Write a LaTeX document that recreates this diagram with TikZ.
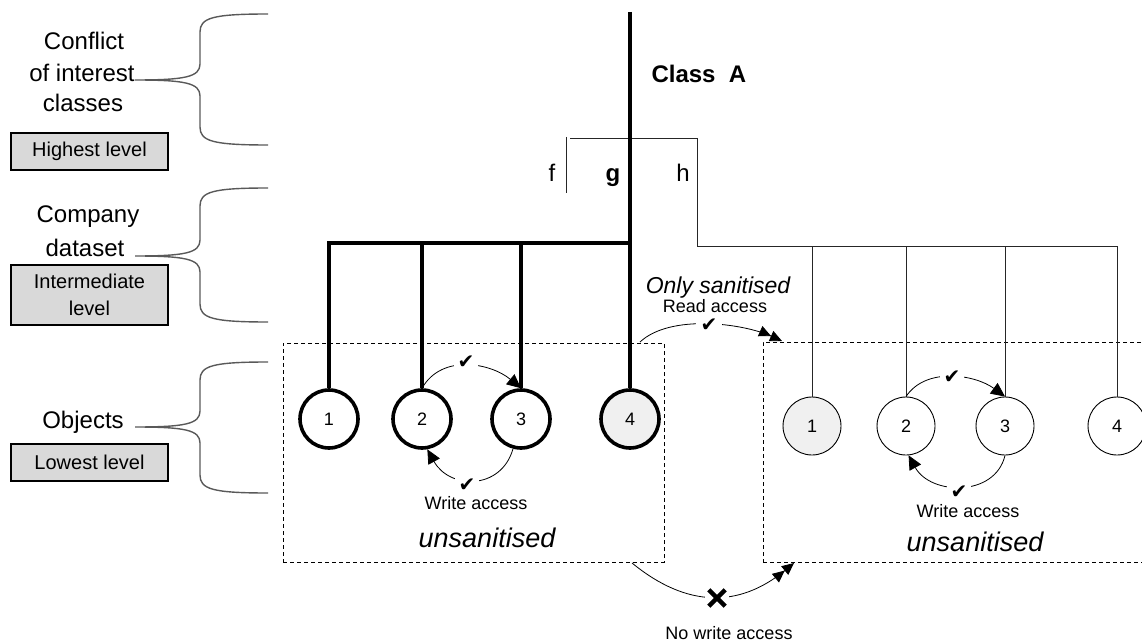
\documentclass[tikz,border=0pt]{standalone}
\usepackage{fontspec}
\setmainfont{Liberation Sans}
\newfontfamily\symfont{DejaVu Sans}
\usetikzlibrary{arrows.meta}

\tikzset{
  fs/.style={font=\fontsize{#1}{#1}\selectfont},
  fsb/.style={font=\fontsize{#1}{#1}\selectfont\bfseries},
  fsi/.style={font=\fontsize{#1}{#1}\selectfont\itshape},
  lvlbox/.style={draw, line width=1.2, fill=black!15, minimum width=157, inner sep=0, align=center},
  bracepath/.style={draw=black!65, line width=1.4},
  thickobj/.style={circle, draw, line width=3.6, fill=white, minimum size=58, inner sep=0, fs=18},
  thinobj/.style={circle, draw, line width=0.9, fill=white, minimum size=58, inner sep=0, fs=18},
  thickline/.style={line width=4},
  thinline/.style={line width=0.9, draw=black!85},
  dbox/.style={draw, dash pattern=on 4 off 3, line width=0.8, inner sep=0},
  chk/.style={font=\symfont\fontsize{20}{20}\selectfont, fill=white, inner sep=4},
  arc/.style={line width=0.8},
  tip/.style={-{Triangle[length=14,width=13]}},
  dtip/.style={-{Triangle[length=12,width=11]Triangle[length=12,width=11]}},
  crossbox/.style={fill=white, minimum size=24, inner sep=0},
  crossline/.style={line width=4.5},
}

\begin{document}
\begin{tikzpicture}[x=1pt,y=-1pt]
\clip (0,0) rectangle (1142,644);

% level braces
\foreach \t/\m/\b in {14/80/145, 188/256/322, 362/427/493}{
  \path[bracepath] (268,\t) .. controls (212,\t) and (200,\t+4) .. (200,\t+18)
     -- (200,\m-16) .. controls (200,\m-3) and (185,\m) .. (135,\m)
     .. controls (185,\m) and (200,\m+3) .. (200,\m+16)
     -- (200,\b-18) .. controls (200,\b-4) and (212,\b) .. (268,\b);
}

% level labels
\node[fs=24, anchor=base] (c1) at (84,50) {Conflict};
\node[fs=24, anchor=base] (c2) at (82,82) {of interest};
\node[fs=24, anchor=base] (c3) at (83,112) {classes};
\node[lvlbox, minimum height=37, fs=20] (hl) at (89.5,151.5) {Highest level};
\node[fs=24, anchor=base] (d1) at (88,223) {Company};
\node[fs=24, anchor=base] (d2) at (85,257) {dataset};
\node[lvlbox, minimum height=60] (il) at (89.5,295) {};
\node[fs=20, anchor=base] (il1) at (89.5,288) {Intermediate};
\node[fs=20, anchor=base] (il2) at (89.5,315) {level};
\node[fs=24, anchor=base] (ob) at (83,428) {Objects};
\node[lvlbox, minimum height=37, fs=20] (ll) at (89.5,462.5) {Lowest level};

% dashed object groups
\node[dbox, minimum width=381, minimum height=219] (lbox) at (473.5,452.5) {};
\node[dbox, minimum width=387, minimum height=220] (rbox) at (956.5,452) {};

% objects
\node[thickobj] (L1) at (329,419) {1};
\node[thickobj] (L2) at (422,419) {2};
\node[thickobj] (L3) at (521,419) {3};
\node[thickobj, fill=black!6] (L4) at (630,419) {4};
\node[thinobj, fill=black!6] (R1) at (812,426) {1};
\node[thinobj] (R2) at (906,426) {2};
\node[thinobj] (R3) at (1005,426) {3};
\node[thinobj] (R4) at (1117,426) {4};

% thin branch (h)
\coordinate (hs) at (570,138);
\coordinate (hc) at (697,138);
\coordinate (hj) at (697,246);
\draw[thinline] (hs) -- (hc) -- (hj);
\foreach \n in {R1,R2,R3,R4}{\draw[thinline] (hj) -| (\n.north);}
\coordinate (fa) at (566,137);
\coordinate (fb) at (566,193);
\draw[thinline] (fa) -- (fb);

% thick branch (g)
\coordinate (top) at (630,12);
\coordinate (gj) at (630,243);
\draw[thickline] (top) -- (L4.north);
\foreach \n in {L1,L2,L3}{\draw[thickline] (gj) -| (\n.north);}

% class and dataset labels
\node[fsb=24, anchor=base west] (ca) at (648,83) {Class\ \ A};
\node[fs=24, anchor=base] (lf) at (552,182) {f};
\node[fsb=24, anchor=base] (lg) at (613,182) {g};
\node[fs=24, anchor=base] (lh) at (683,182) {h};

% write access inside left group
\draw[arc, tip] (L2.north) .. controls +(20,-35) and +(-30,-25) .. (L3.north);
\draw[arc, tip] (L3.-105) .. controls +(-12,42) and +(22,40) .. (L2.-80);
\node[chk] (lk1) at (466,362) {✔};
\node[chk] (lk2) at (467,485) {✔};
\node[fs=18, anchor=base] (lw) at (476,509) {Write access};
\node[fsi=27, anchor=base] (lu) at (487,547) {unsanitised};

% write access inside right group
\draw[arc, tip] (R2.north) .. controls +(20,-30) and +(-30,-22) .. (R3.north);
\draw[arc, tip] (R3.south) .. controls +(-10,42) and +(22,40) .. (R2.-85);
\node[chk] (rk1) at (952,377) {✔};
\node[chk] (rk2) at (959,492) {✔};
\node[fs=18, anchor=base] (rw) at (968,517) {Write access};
\node[fsi=27, anchor=base] (ru) at (975,551) {unsanitised};

% read access between groups
\coordinate (ra) at (640,342);
\coordinate (rb) at (782,341);
\draw[arc, dtip] (ra) .. controls +(30,-28) and +(-40,-18) .. (rb);
\node[chk, inner xsep=5, inner ysep=0.5] (mk) at (709,325) {✔};
\node[fsi=23, anchor=base] (os) at (718,293) {Only sanitised};
\node[fs=18, anchor=base] (rd) at (715,312) {Read access};

% no write access between groups
\coordinate (wa) at (632,563);
\coordinate (wb) at (794,563);
\draw[arc, dtip] (wa) .. controls +(55,45) and +(-55,45) .. (wb);
\node[crossbox] (xx) at (717,598) {};
\draw[crossline] ([shift={(4,4)}]xx.north west) -- ([shift={(-4,-4)}]xx.south east);
\draw[crossline] ([shift={(-4,4)}]xx.north east) -- ([shift={(4,-4)}]xx.south west);
\node[fs=18, anchor=base] (nw) at (729,639) {No write access};
\end{tikzpicture}
\end{document}
